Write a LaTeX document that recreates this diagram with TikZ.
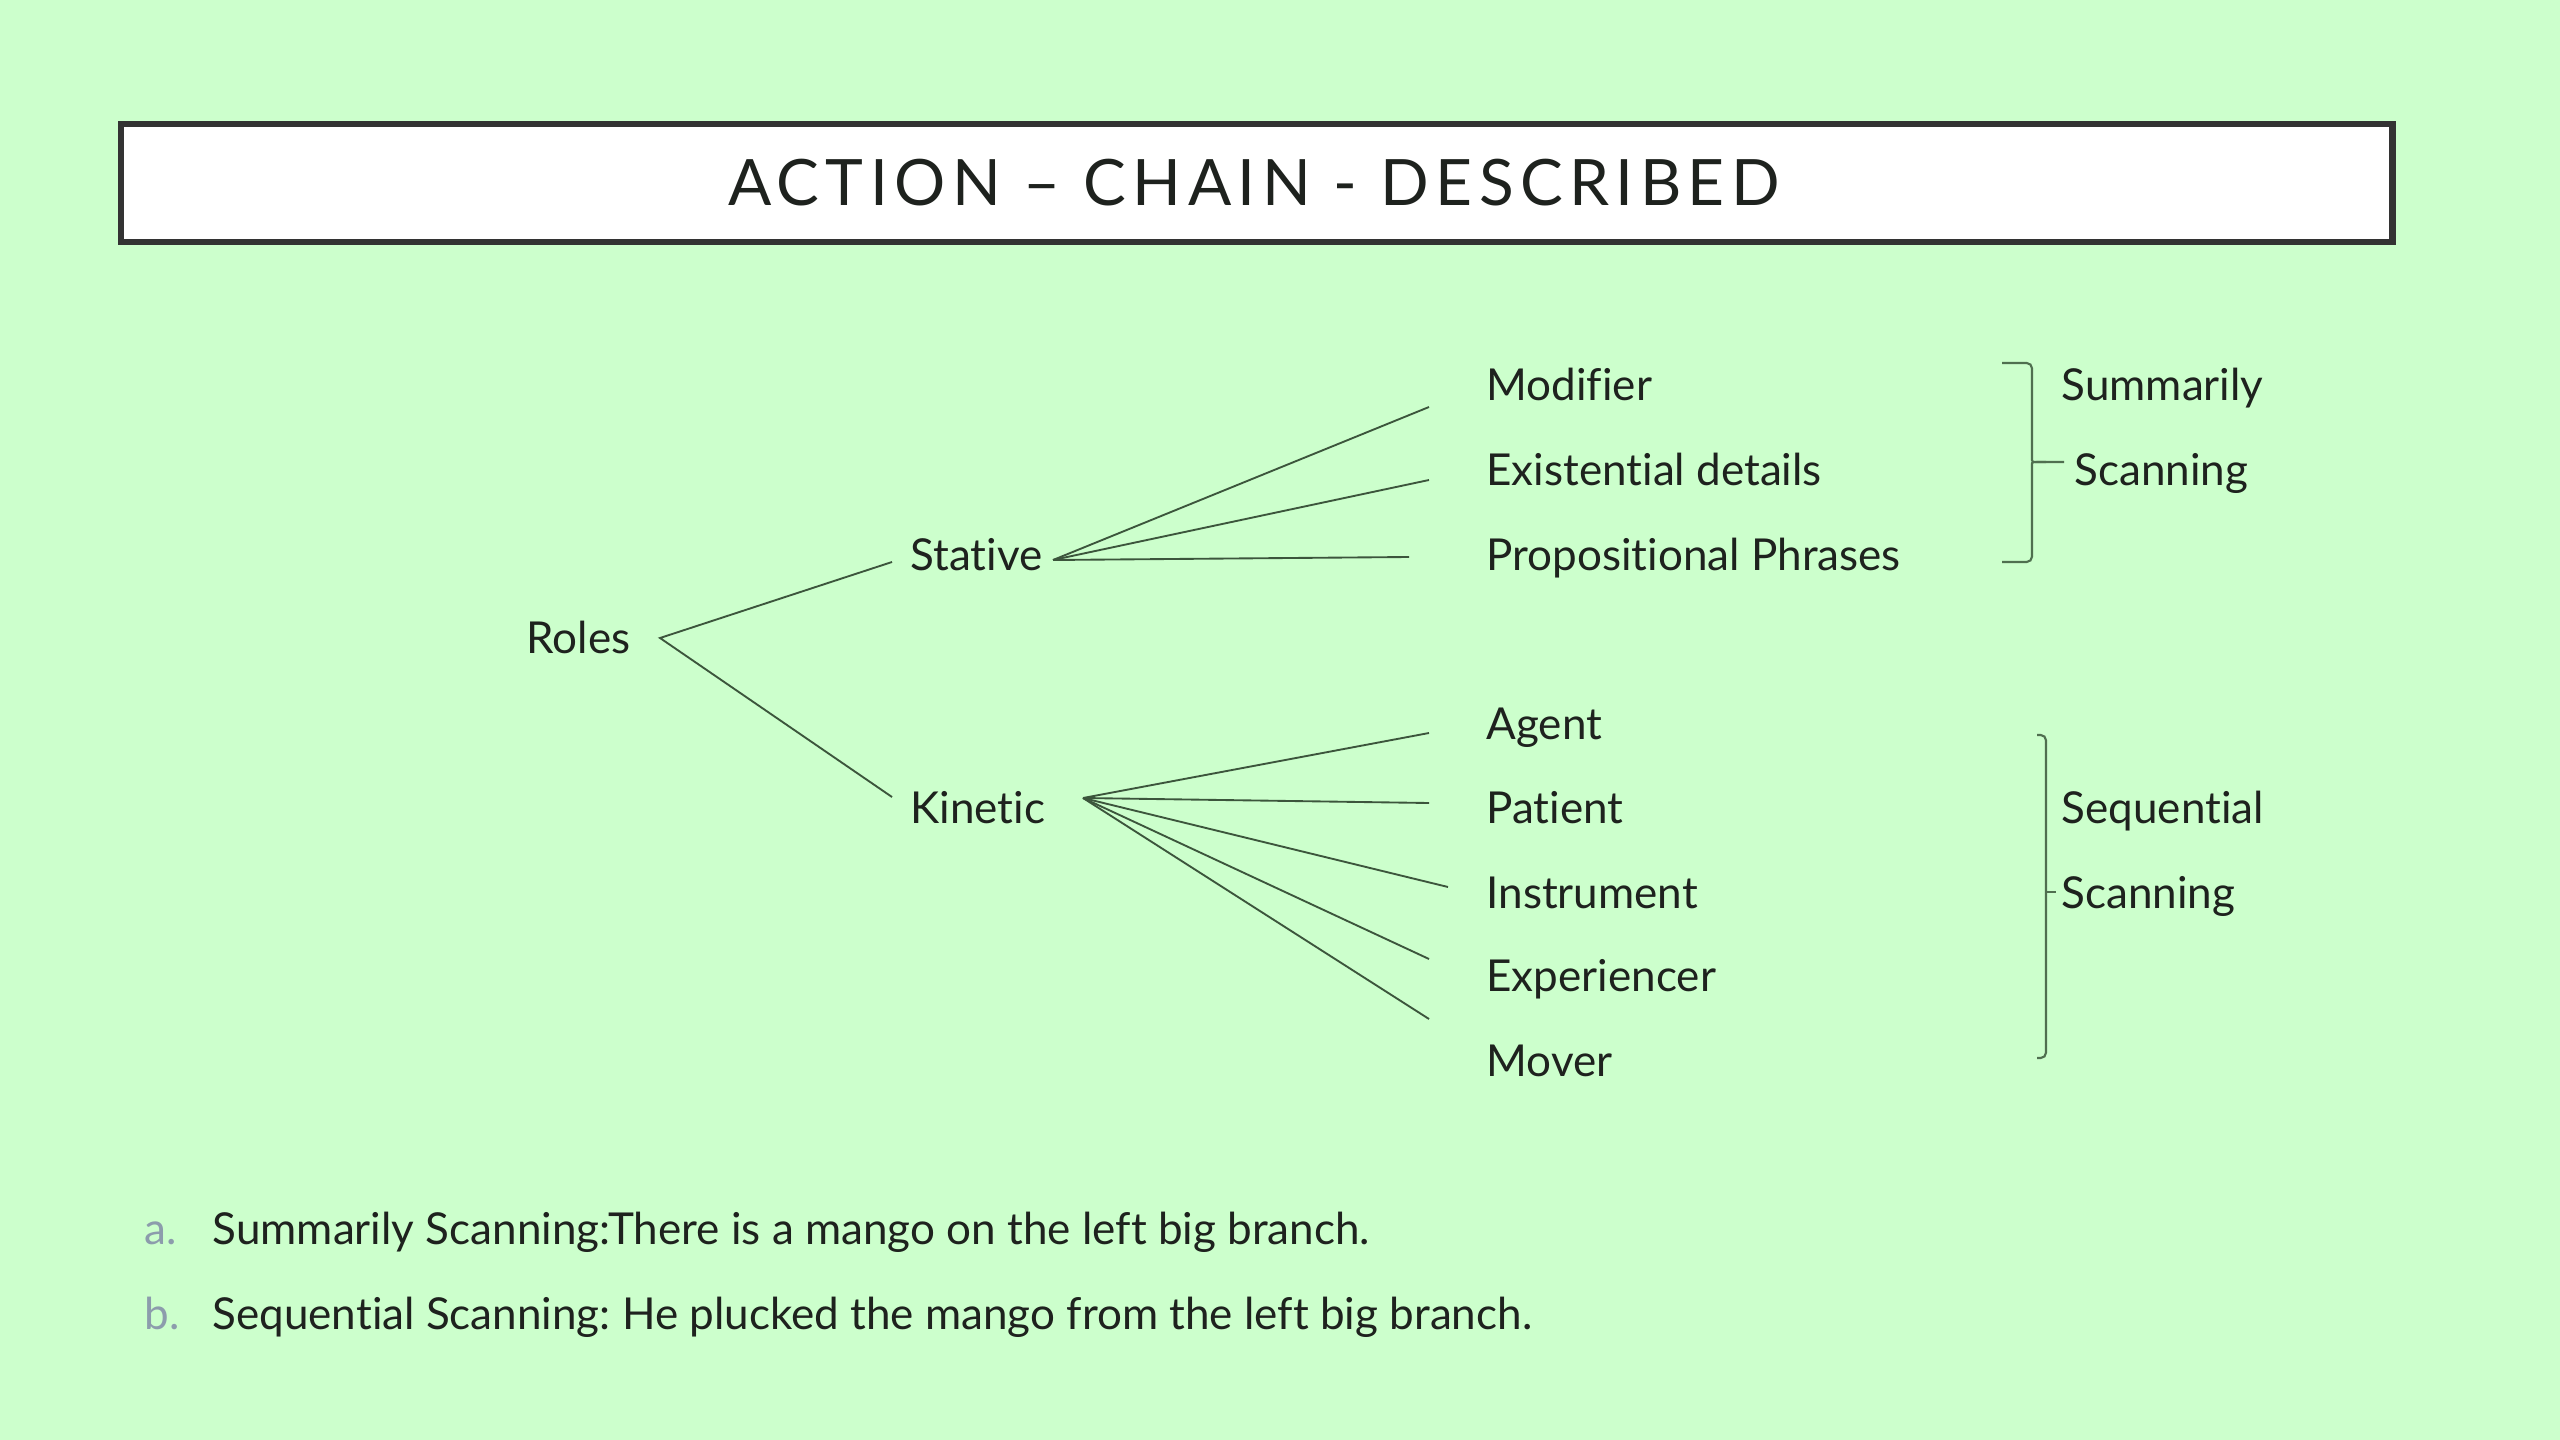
\documentclass[tikz,border=0pt]{standalone}
\usepackage{fontspec}
\setmainfont[Ligatures={NoCommon}]{Lato}
\newfontfamily\titlefont[LetterSpace=10,Ligatures={NoCommon}]{Lato}
\frenchspacing
\definecolor{bg}{HTML}{CCFFCC}
\definecolor{ink}{HTML}{1E221E}
\definecolor{linec}{HTML}{3C553C}
\definecolor{brk}{HTML}{4F6F4F}
\definecolor{lblc}{HTML}{8C9CAC}
\definecolor{frame}{HTML}{333333}
\tikzset{
  lbl/.style={anchor=base west, inner sep=0pt, text=ink, font=\fontsize{16.5}{20}\selectfont},
  listmark/.style={anchor=base west, inner sep=0pt, text=lblc, font=\fontsize{16.5}{20}\selectfont},
  branch/.style={draw=linec, line width=0.7pt},
  bracketline/.style={draw=brk, line width=0.8pt, rounded corners=2pt},
}
\begin{document}
\begin{tikzpicture}[x=0.375pt, y=-0.375pt]
\fill[bg] (0,0) rectangle (2560,1440);
\useasboundingbox (0,0) rectangle (2560,1440);
% title
\node[draw=frame, line width=2.6pt, fill=white, minimum width=2271*0.375pt, minimum height=118*0.375pt, inner sep=0pt] (title) at (1256.5,183) {};
\node[text=ink, font=\titlefont\fontsize{24}{28}\selectfont, inner sep=0pt] (titletext) at (1254,183) {ACTION – CHAIN - DESCRIBED};
% tree labels
\node[lbl] (roles) at (526,653) {Roles};
\node[lbl] (stative) at (910,570) {Stative};
\node[lbl] (kinetic) at (910,823) {Kinetic};
\node[lbl] (modifier) at (1486,401) {Modifier};
\node[lbl] (exist) at (1486,486) {Existential details};
\node[lbl] (prop) at (1486,570) {Propositional Phrases};
\node[lbl] (agent) at (1486,739) {Agent};
\node[lbl] (patient) at (1486,823) {Patient};
\node[lbl] (instr) at (1486,908) {Instrument};
\node[lbl] (exper) at (1486,991) {Experiencer};
\node[lbl] (mover) at (1486,1076) {Mover};
\node[lbl] (summ) at (2061,401) {Summarily};
\node[lbl] (scan1) at (2074,486) {Scanning};
\node[lbl] (seq) at (2061,823) {Sequential};
\node[lbl] (scan2) at (2061,908) {Scanning};
% connector anchor points
\coordinate (rA) at (660,638);
\coordinate (rS) at (892,562);
\coordinate (rK) at (892,797);
\coordinate (sO) at (1053,560);
\coordinate (sM) at (1429,407);
\coordinate (sE) at (1429,480);
\coordinate (sP) at (1409,557);
\coordinate (kO) at (1083,798);
\coordinate (kA) at (1429,733);
\coordinate (kP) at (1429,803);
\coordinate (kI) at (1448,887);
\coordinate (kX) at (1429,959);
\coordinate (kM) at (1429,1019);
\draw[branch] (rS) -- (rA) -- (rK);
\draw[branch] (sO) -- (sM);
\draw[branch] (sO) -- (sE);
\draw[branch] (sO) -- (sP);
\draw[branch] (kO) -- (kA);
\draw[branch] (kO) -- (kP);
\draw[branch] (kO) -- (kI);
\draw[branch] (kO) -- (kX);
\draw[branch] (kO) -- (kM);
% brackets
\coordinate (b1t) at (2002,363);
\coordinate (b1b) at (2002,562);
\coordinate (b1tip) at (2064,462);
\draw[bracketline] (b1t) -- (2032,363) -- (2032,455) .. controls (2032,462) .. (2046,462) -- (b1tip);
\draw[bracketline] (b1b) -- (2032,562) -- (2032,469) .. controls (2032,462) .. (2046,462);
\coordinate (b2t) at (2037,735);
\coordinate (b2b) at (2037,1058);
\coordinate (b2tip) at (2056,892);
\draw[bracketline] (b2t) -- (2046,735) -- (2046,1058) -- (b2b);
\draw[brk, line width=0.8pt] (2046,892) -- (b2tip);
% bottom list
\node[listmark] (ma) at (144,1244) {a.};
\node[lbl] (ta) at (212,1244) {Summarily Scanning:There is a mango on the left big branch.};
\node[listmark] (mb) at (144,1329) {b.};
\node[lbl] (tb) at (212,1329) {Sequential Scanning: He plucked the mango from the left big branch.};
\end{tikzpicture}
\end{document}
